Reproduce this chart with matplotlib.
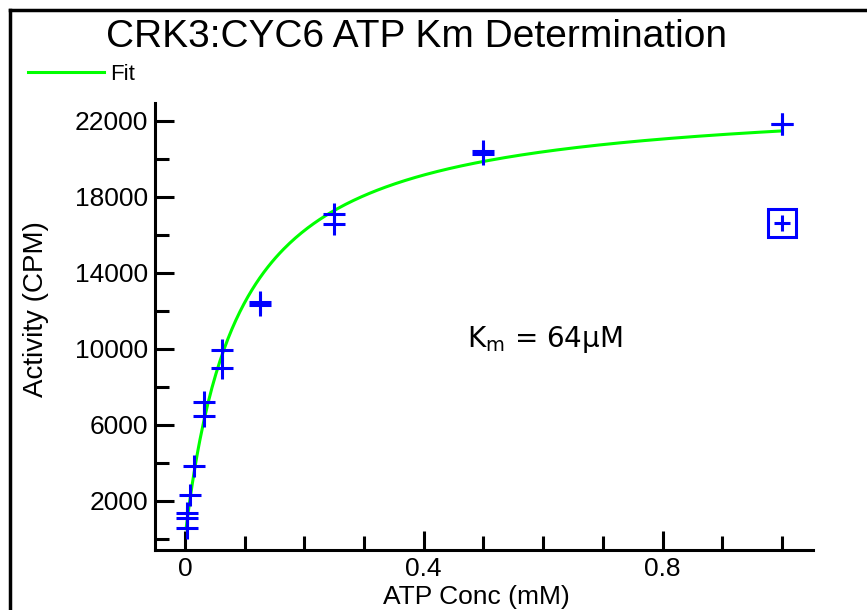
import numpy as np
import matplotlib.pyplot as plt
from matplotlib.ticker import MultipleLocator

# ATP concentration (mM) and measured activity (CPM), duplicates at each conc
atp = [1.0, 1.0, 0.5, 0.5, 0.25, 0.25, 0.125, 0.125, 0.0625, 0.0625,
       0.03125, 0.03125, 0.0156, 0.0078, 0.0039, 0.0039, 0.0039]
cpm = [21850, 21850, 20400, 20250, 17070, 16550, 12470, 12300, 9930, 8970,
       7180, 6440, 3830, 2300, 1370, 1100, 580]
# excluded outlier (boxed)
out_atp = [1.0]
out_cpm = [16630]

# Michaelis-Menten fit parameters as drawn
vmax = 23350.0
km_fit = 0.088
fit_x = np.linspace(0.002, 1.0, 300)
fit_y = vmax * fit_x / (km_fit + fit_x)

plt.rcParams['font.family'] = ['Liberation Sans', 'DejaVu Sans']

fig = plt.figure(figsize=(8.67, 6.1), dpi=100)
ax = fig.add_axes([0.1788, 0.0984, 0.7589, 0.7327])

line, = ax.plot(fit_x, fit_y, color='#00ff00', lw=2.2, label='Fit', zorder=2)
ax.plot(atp, cpm, ls='none', marker='+', ms=16.5, mew=2.2, color='#0000ff', zorder=3)
ax.plot(out_atp, out_cpm, ls='none', marker='s', ms=20, mew=2.2, mfc='none', mec='#0000ff', zorder=3)
ax.plot(out_atp, out_cpm, ls='none', marker='+', ms=11, mew=2.2, color='#0000ff', zorder=3)

ax.set_xlim(-0.050, 1.052)
ax.set_ylim(-595, 22930)

for s in ['top', 'right']:
    ax.spines[s].set_visible(False)
for s in ['left', 'bottom']:
    ax.spines[s].set_linewidth(2.2)

ax.set_xticks([0, 0.4, 0.8])
ax.set_xticklabels(['0', '0.4', '0.8'])
ax.xaxis.set_minor_locator(MultipleLocator(0.1))
ax.set_yticks([2000, 6000, 10000, 14000, 18000, 22000])
ax.set_yticks([0, 4000, 8000, 12000, 16000, 20000], minor=True)
ax.tick_params(which='both', direction='in', width=2.2, labelsize=19, pad=5)
ax.tick_params(which='major', length=13.5)
ax.tick_params(which='minor', length=10)

ax.set_xlabel('ATP Conc (mM)', fontsize=19)
ax.xaxis.label.set_va('baseline')
ax.xaxis.set_label_coords(0.488, -0.121)
ax.set_ylabel('Activity (CPM)', fontsize=20)
ax.yaxis.set_label_coords(-0.161, 0.54)

ax.text(0.472, 10090, 'K$_{\\rm m}$ = 64μM', fontsize=20, family='DejaVu Sans', ha='left', va='baseline')

fig.text(0.48, 0.94, 'CRK3:CYC6 ATP Km Determination', fontsize=28, ha='center', va='center')

fig.legend(handles=[line], loc='upper left', bbox_to_anchor=(0.022, 0.91), frameon=False,
           fontsize=16, handlelength=3.4, borderaxespad=0, handletextpad=0.3)

# frame lines along top and left of the figure
fig.add_artist(plt.Line2D([0.0115, 1.0], [0.9835, 0.9835], color='black', lw=2.5, transform=fig.transFigure))
fig.add_artist(plt.Line2D([0.0115, 0.0115], [0.0, 0.9835], color='black', lw=2.5, transform=fig.transFigure))

fig.savefig('out.png', dpi=100)
